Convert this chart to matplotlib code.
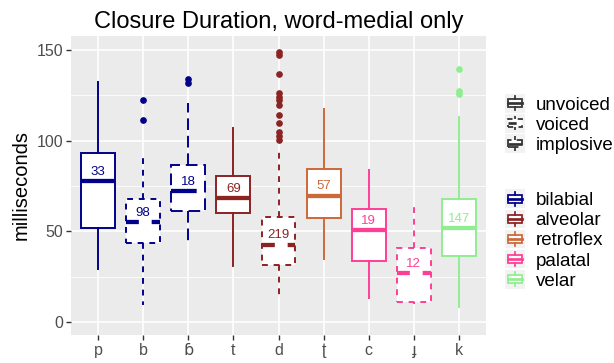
import matplotlib.pyplot as plt
from matplotlib.legend_handler import HandlerBase
from matplotlib.patches import Rectangle
from matplotlib.lines import Line2D

plt.rcParams['font.family'] = ['Liberation Sans', 'DejaVu Sans']

segments = ['p', 'b', 'ɓ', 't', 'd', 'ʈ', 'c', 'ɟ', 'k']
place = ['bilabial', 'bilabial', 'bilabial', 'alveolar', 'alveolar',
         'retroflex', 'palatal', 'palatal', 'velar']
voicing = ['unvoiced', 'voiced', 'implosive', 'unvoiced', 'voiced',
           'unvoiced', 'unvoiced', 'voiced', 'unvoiced']
counts = [33, 98, 18, 69, 219, 57, 19, 12, 147]
medians = [77.6, 55.0, 72.1, 68.4, 42.7, 69.7, 50.6, 27.1, 51.9]
q1 = [51.9, 43.6, 61.1, 60.1, 31.4, 57.4, 33.6, 11.0, 36.3]
q3 = [93.2, 68.0, 86.7, 80.3, 57.8, 84.4, 62.4, 40.9, 68.0]
whisk_lo = [29.3, 9.2, 44.2, 30.8, 12.8, 34.5, 13.4, 9.7, 8.4]
whisk_hi = [132.2, 92.8, 121.0, 106.9, 94.1, 117.5, 84.0, 64.7, 113.0]
outliers = [[], [111.5, 122.5], [131.7, 133.9], [],
            [100.5, 102.3, 105.0, 109.7, 114.2, 119.7, 122.5, 124.3, 126.2,
             136.6, 147.3, 149.0],
            [], [], [], [125.8, 127.1, 139.4]]

place_names = ['bilabial', 'alveolar', 'retroflex', 'palatal', 'velar']
place_colors = ['#00008B', '#8B2323', '#CD6839', '#FF3E96', '#90EE90']
voicing_names = ['unvoiced', 'voiced', 'implosive']
voicing_ls = ['solid', (0, (3, 3)), (0, (6, 3))]

col = dict(zip(place_names, place_colors))
lst = dict(zip(voicing_names, voicing_ls))
LW = 1.4


class Key:
    def __init__(self, color, ls):
        self.color = color
        self.ls = ls


class BoxKey(HandlerBase):
    # small ggplot-style boxplot key on a light grey square
    def create_artists(self, legend, h, xd, yd, w, ht, fontsize, trans):
        x0, y0 = -xd, -yd
        bg = Rectangle((x0, y0 - 0.1 * ht), w, 1.2 * ht, fc='#F2F2F2', ec='none',
                       transform=trans)
        box = Rectangle((x0 + 0.15 * w, y0 + 0.25 * ht), 0.7 * w, 0.5 * ht,
                        fc='white', ec=h.color, lw=LW * 0.9, ls=h.ls, transform=trans)
        xm = x0 + 0.5 * w
        lo = Line2D([xm, xm], [y0 + 0.05 * ht, y0 + 0.25 * ht], color=h.color,
                    lw=LW * 0.9, ls=h.ls, transform=trans)
        hi = Line2D([xm, xm], [y0 + 0.75 * ht, y0 + 0.95 * ht], color=h.color,
                    lw=LW * 0.9, ls=h.ls, transform=trans)
        md = Line2D([x0 + 0.15 * w, x0 + 0.85 * w], [y0 + 0.5 * ht] * 2,
                    color=h.color, lw=LW * 1.4, ls=h.ls, transform=trans)
        return [bg, box, lo, hi, md]


fig = plt.figure(figsize=(6.14, 3.63), dpi=100)
ax = fig.add_axes([0.1156, 0.077, 0.676, 0.824])
ax.set_facecolor('#EBEBEB')

for i, seg in enumerate(segments):
    c = col[place[i]]
    ls = lst[voicing[i]]
    stat = dict(med=medians[i], q1=q1[i], q3=q3[i], whislo=whisk_lo[i],
                whishi=whisk_hi[i], fliers=outliers[i])
    ax.bxp([stat], positions=[i + 1], widths=0.75, patch_artist=True,
           showcaps=False,
           boxprops=dict(facecolor='white', edgecolor=c, linewidth=LW, linestyle=ls),
           whiskerprops=dict(color=c, linewidth=LW, linestyle=ls),
           medianprops=dict(color=c, linewidth=LW * 2.2, linestyle=ls,
                            solid_capstyle='butt', dash_capstyle='butt'),
           flierprops=dict(marker='o', markerfacecolor=c, markeredgecolor=c,
                           markersize=3.8, linestyle='none'),
           zorder=3)
    ax.text(i + 1, medians[i] + 5, str(counts[i]), color=c, fontsize=9.5,
            ha='center', va='center', zorder=4)

ax.set_xlim(0.4, 9.6)
ax.set_ylim(-7.2, 157.7)
ax.set_xticks(range(1, 10))
ax.set_xticklabels(segments)
# the hooked b is drawn from DejaVu so the hook is visible
ax.get_xticklabels()[2].set_family('DejaVu Sans')
ax.set_yticks([0, 50, 100, 150])
ax.set_yticks([25, 75, 125], minor=True)
ax.grid(which='major', color='white', linewidth=1.2, zorder=0)
ax.grid(which='minor', axis='y', color='white', linewidth=0.6, zorder=0)
ax.set_axisbelow(True)
for s in ax.spines.values():
    s.set_visible(False)
ax.tick_params(which='major', length=3.5, width=1, color='#333333',
               labelcolor='#4D4D4D', labelsize=11.5, pad=2)
ax.tick_params(which='minor', length=0)
ax.set_ylabel('milliseconds', fontsize=14.5, labelpad=4)
ax.set_title('Closure Duration, word-medial only', fontsize=17, pad=6)

leg_kw = dict(handler_map={Key: BoxKey()}, frameon=False, fontsize=13.5,
              handlelength=1.1, handleheight=0.9, handletextpad=0.55,
              labelspacing=0.1, borderpad=0, borderaxespad=0, loc='upper left')
h1 = [Key('#333333', ls) for ls in voicing_ls]
leg1 = fig.legend(h1, voicing_names, bbox_to_anchor=(0.822, 0.737), **leg_kw)
h2 = [Key(c, 'solid') for c in place_colors]
leg2 = fig.legend(h2, place_names, bbox_to_anchor=(0.822, 0.474), **leg_kw)

fig.savefig('out.png', dpi=100)
